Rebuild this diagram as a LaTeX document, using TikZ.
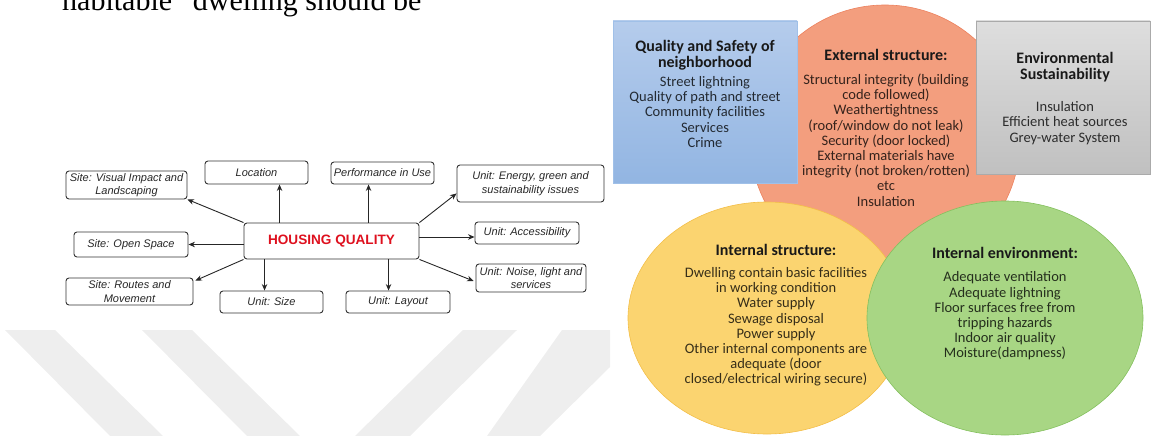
\documentclass[tikz,border=0pt]{standalone}
\usepackage{fontspec}
\setmainfont{Liberation Sans}
\newfontfamily\carlito{Carlito}
\newfontfamily\serifface{Liberation Serif}
\usetikzlibrary{arrows.meta}

\definecolor{wmgray}{RGB}{238,238,238}
\definecolor{boxedge}{RGB}{51,51,51}
\definecolor{hqred}{RGB}{222,16,30}
\definecolor{blueTop}{RGB}{181,204,236}
\definecolor{blueBot}{RGB}{146,181,226}
\definecolor{blueEdge}{RGB}{160,192,232}
\definecolor{grayTop}{RGB}{222,222,222}
\definecolor{grayBot}{RGB}{192,192,192}
\definecolor{grayEdge}{RGB}{170,170,170}
\definecolor{orFill}{RGB}{243,158,126}
\definecolor{orEdge}{RGB}{236,128,92}
\definecolor{yeFill}{RGB}{251,212,112}
\definecolor{yeEdge}{RGB}{243,190,72}
\definecolor{grFill}{RGB}{168,214,132}
\definecolor{grEdge}{RGB}{132,192,94}

\tikzset{
  mapbox/.style={draw=boxedge, line width=0.9pt, rounded corners=3pt, inner sep=0pt,
    align=center, font=\fontsize{11}{13.5}\selectfont\itshape, text=black!85},
  arr/.style={-{Stealth[length=6.5pt,width=5.5pt]}, line width=0.9pt, draw=black!85},
  wm/.style={fill=wmgray},
  ptitle/.style={inner sep=0pt, align=center, font=\carlito\bfseries\fontsize{16}{16.5}\selectfont, text=black!90},
  pbody/.style={inner sep=0pt, align=center, font=\carlito\fontsize{14.5}{15.2}\selectfont, text=black, text opacity=0.78}
}

\begin{document}
\begin{tikzpicture}[x=1pt,y=-1pt]
\useasboundingbox (0,0) rectangle (1152,436);
\clip (0,0) rectangle (1152,436);

% running text of the page, cut by the top edge
\node[anchor=base west, inner sep=0pt, font=\serifface\fontsize{30}{32}\selectfont] (pagetext) at (62,11)
  {habitable” dwelling should be};

% faint watermark stripes
\fill[wm] (5,330) -- (55,330) -- (163,436) -- (110,436) -- cycle;
\fill[wm] (142,330) -- (192,330) -- (300,436) -- (247,436) -- cycle;
\fill[wm] (463,330) -- (517,330) -- (410,436) -- (355,436) -- cycle;
\fill[wm] (562,330) -- (610,330) -- (610,367) -- (540,436) -- (487,436) -- cycle;

% ---------- concept map of housing quality ----------
\node[mapbox, minimum width=175pt, minimum height=36pt,
      font=\fontsize{13.6}{15}\selectfont\bfseries, text=hqred] (hq) at (331.5,241) {HOUSING QUALITY};

\node[mapbox, minimum width=121pt, minimum height=28pt] (vis) at (126.5,185) {Site: Visual Impact and\\Landscaping};
\node[mapbox, minimum width=103pt, minimum height=23pt] (loc) at (256.5,172.5) {Location};
\node[mapbox, minimum width=103pt, minimum height=22pt] (perf) at (382.5,173) {Performance in Use};
\node[mapbox, minimum width=147pt, minimum height=37pt] (energy) at (530.5,183.5) {Unit: Energy, green and\\sustainability issues};
\node[mapbox, minimum width=114pt, minimum height=25pt] (open) at (131,244.5) {Site: Open Space};
\node[mapbox, minimum width=104pt, minimum height=22pt] (acc) at (527,233) {Unit: Accessibility};
\node[mapbox, minimum width=127pt, minimum height=27pt] (routes) at (129.5,291.5) {Site: Routes and\\Movement};
\node[mapbox, minimum width=110pt, minimum height=28pt] (noise) at (531,278) {Unit: Noise, light and\\services};
\node[mapbox, minimum width=103pt, minimum height=22pt] (size) at (271.5,302) {Unit: Size};
\node[mapbox, minimum width=104pt, minimum height=22pt] (layout) at (398,302) {Unit: Layout};

\coordinate (locfoot) at ([xshift=36pt]hq.north west);
\coordinate (perffoot) at ([xshift=125pt]hq.north west);
\coordinate (sizefoot) at ([xshift=21pt]hq.south west);
\coordinate (layoutfoot) at ([xshift=145pt]hq.south west);
\coordinate (acctip) at ([yshift=-4pt]acc.west);
\coordinate (energytip) at ([yshift=9pt]energy.south west);
\coordinate (noisetip) at ([xshift=-2pt,yshift=-3pt]noise.west);
\coordinate (routestip) at ([xshift=2pt,yshift=-3pt]routes.north east);

\draw[arr] (locfoot) -- (locfoot |- loc.south);
\draw[arr] (perffoot) -- (perffoot |- perf.south);
\draw[arr] (hq.north west) -- (vis.south east);
\draw[arr] (hq.west |- open.east) -- (open.east);
\draw[arr] (hq.south west) -- (routestip);
\draw[arr] (sizefoot) -- (sizefoot |- size.north);
\draw[arr] (layoutfoot) -- (layoutfoot |- layout.north);
\draw[arr] (hq.north east) -- (energytip);
\draw[arr] (hq.east |- acctip) -- (acctip);
\draw[arr] (hq.south east) -- (noisetip);

% ---------- housing quality aspects ----------
\fill[orFill, draw=orEdge, line width=0.6pt] (885,140) circle[radius=135];
\shade[top color=blueTop, bottom color=blueBot] (613,21) rectangle (797,183);
\draw[blueEdge, line width=0.6pt] (613,21) rectangle (797,183);
\shade[top color=grayTop, bottom color=grayBot] (976,21) rectangle (1150,174);
\draw[grayEdge, line width=0.6pt] (976,21) rectangle (1150,174);
\fill[yeFill, draw=yeEdge, line width=0.6pt] (767,318) ellipse[x radius=139, y radius=116];
\fill[grFill, draw=grEdge, line width=0.6pt] (1005,318) ellipse[x radius=138, y radius=117];

\node[ptitle] (nbT) at (705,55) {Quality and Safety of\\neighborhood};
\node[pbody] (nbB) at (705,112) {Street lightning\\Quality of path and street\\Community facilities\\Services\\Crime};

\node[ptitle] (exT) at (886,55) {External structure:};
\node[pbody] (exB) at (886,140) {Structural integrity (building\\code followed)\\Weathertightness\\(roof/window do not leak)\\Security (door locked)\\External materials have\\integrity (not broken/rotten)\\etc\\Insulation};

\node[ptitle] (esT) at (1065,67) {Environmental\\Sustainability};
\node[pbody] (esB) at (1065,123) {Insulation\\Efficient heat sources\\Grey-water System};

\node[ptitle] (isT) at (776,250) {Internal structure:};
\node[pbody] (isB) at (776,327) {Dwelling contain basic facilities\\in working condition\\Water supply\\Sewage disposal\\Power supply\\Other internal components are\\adequate (door\\closed/electrical wiring secure)};

\node[ptitle] (ieT) at (1005,253) {Internal environment:};
\node[pbody] (ieB) at (1005,316) {Adequate ventilation\\Adequate lightning\\Floor surfaces free from\\tripping hazards\\Indoor air quality\\Moisture(dampness)};
\end{tikzpicture}
\end{document}
